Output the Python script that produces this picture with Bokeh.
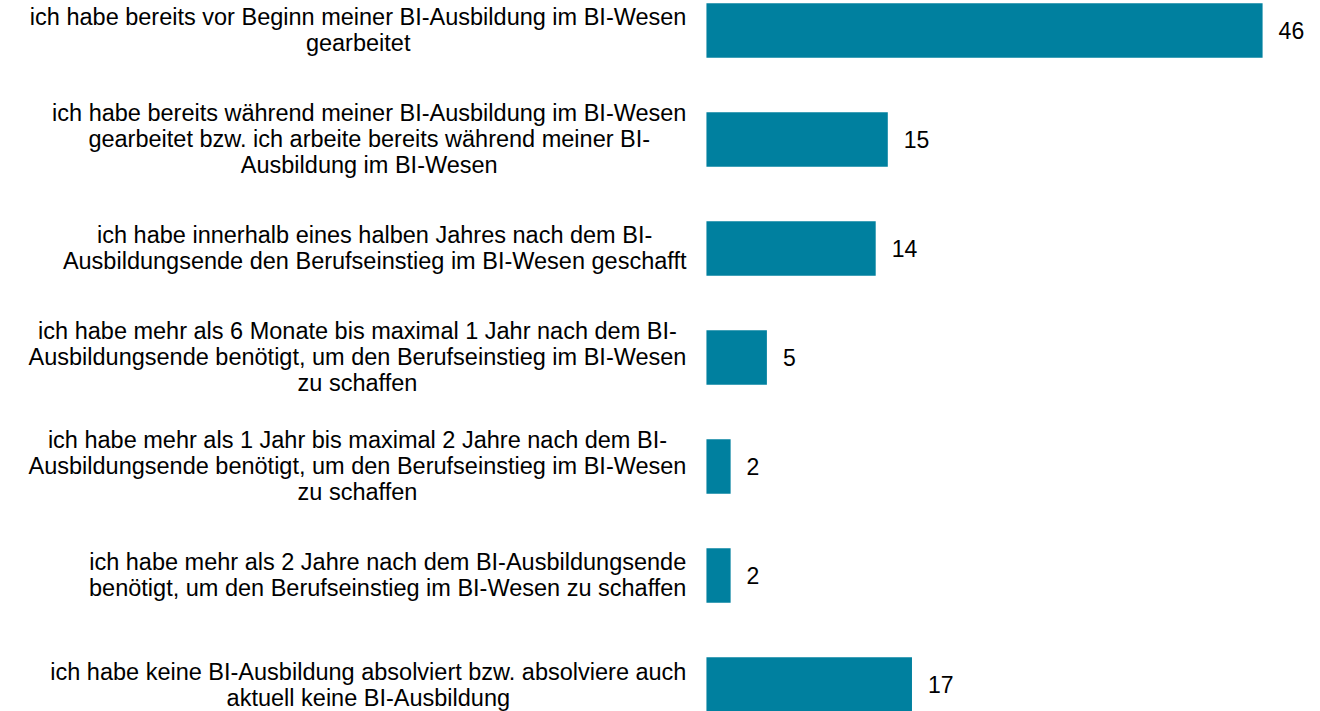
from bokeh.plotting import figure
from bokeh.models import ColumnDataSource, Range1d
from bokeh.embed import file_html
from bokeh.resources import INLINE
from bokeh.core.properties import value

categories = [
    "ich habe bereits vor Beginn meiner BI-Ausbildung im BI-Wesen\ngearbeitet",
    "ich habe bereits während meiner BI-Ausbildung im BI-Wesen\ngearbeitet bzw. ich arbeite bereits während meiner BI-\nAusbildung im BI-Wesen",
    "ich habe innerhalb eines halben Jahres nach dem BI-\nAusbildungsende den Berufseinstieg im BI-Wesen geschafft",
    "ich habe mehr als 6 Monate bis maximal 1 Jahr nach dem BI-\nAusbildungsende benötigt, um den Berufseinstieg im BI-Wesen\nzu schaffen",
    "ich habe mehr als 1 Jahr bis maximal 2 Jahre nach dem BI-\nAusbildungsende benötigt, um den Berufseinstieg im BI-Wesen\nzu schaffen",
    "ich habe mehr als 2 Jahre nach dem BI-Ausbildungsende\nbenötigt, um den Berufseinstieg im BI-Wesen zu schaffen",
    "ich habe keine BI-Ausbildung absolviert bzw. absolviere auch\naktuell keine BI-Ausbildung",
]
values = [46, 15, 14, 5, 2, 2, 17]
value_labels = [str(v) for v in values]
positions = list(range(len(values)))

src = ColumnDataSource(data=dict(pos=positions, val=values, cat=categories, lab=value_labels))

p = figure(width=1320, height=711, output_backend="svg", toolbar_location=None,
           x_axis_type=None, y_axis_type=None, min_border=0,
           x_range=Range1d(-58.39, 50.79), y_range=Range1d(6.2477, -0.2752))
p.outline_line_color = None
p.grid.visible = False
p.background_fill_color = "white"
p.border_fill_color = "white"

p.hbar(y="pos", left=0, right="val", height=0.5, source=src,
       fill_color="#00809F", line_color=None)

p.text(x=0, y="pos", text="cat", source=src, x_offset=-20,
       anchor="center_right", text_align="center", text_baseline="middle",
       text_font=value("Liberation Sans"), text_font_size="23.5px",
       text_line_height=1.0, text_color="#000000")

p.text(x="val", y="pos", text="lab", source=src, x_offset=16,
       text_align="left", text_baseline="middle",
       text_font=value("Liberation Sans"), text_font_size="23px",
       text_color="#000000")

open("out.html", "w").write(file_html(p, INLINE))
